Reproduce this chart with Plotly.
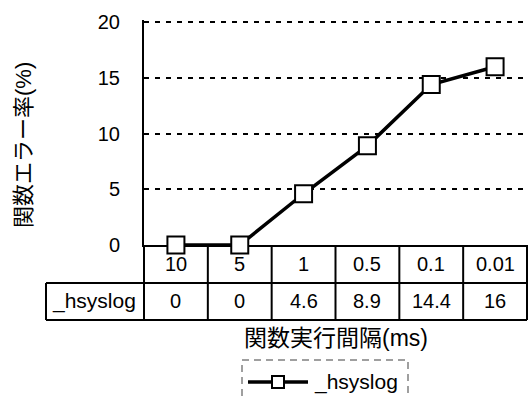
import plotly.graph_objects as go

# Chart data
categories = ["10", "5", "1", "0.5", "0.1", "0.01"]
hsyslog = [0, 0, 4.6, 8.9, 14.4, 16]
series_name = "_hsyslog"
y_ticks = [0, 5, 10, 15, 20]
x_title = "関数実行間隔(ms)"
y_title = "関数エラー率(%)"

# Figure geometry (pixels)
W, H = 528, 396
ML, MR, MT, MB = 144, 1, 20, 151
PW = W - ML - MR
PH = H - MT - MB

FONT = "Liberation Sans, Arial, Noto Sans CJK JP"
BLACK = "#000000"


def xp(px):
    """Pixel x -> paper x."""
    return (px - ML) / PW


def yp(py):
    """Pixel y -> paper y."""
    return (H - MB - py) / PH


fig = go.Figure()
fig.add_trace(go.Scatter(
    x=categories, y=hsyslog, name=series_name,
    mode="lines+markers",
    line=dict(color=BLACK, width=3.5),
    marker=dict(symbol="square", size=17, color="white",
                line=dict(color=BLACK, width=2)),
    cliponaxis=False, showlegend=False,
))

shapes = []
ncat = len(categories)
row1_top, row2_top, row2_bot = 245, 283, 320
label_left = 46

# data table grid
for yy in (row2_top, row2_bot):
    shapes.append(dict(type="line", xref="paper", yref="paper",
                       x0=xp(label_left), x1=1, y0=yp(yy), y1=yp(yy),
                       line=dict(color=BLACK, width=2)))
shapes.append(dict(type="line", xref="paper", yref="paper",
                   x0=xp(label_left), x1=xp(label_left),
                   y0=yp(row2_top), y1=yp(row2_bot),
                   line=dict(color=BLACK, width=2)))
for k in range(ncat + 1):
    shapes.append(dict(type="line", xref="paper", yref="paper",
                       x0=k / ncat, x1=k / ncat,
                       y0=yp(row1_top), y1=yp(row2_bot),
                       line=dict(color=BLACK, width=2)))

# legend box and glyph
leg_y = 382
shapes.append(dict(type="rect", xref="paper", yref="paper",
                   x0=xp(242), x1=xp(408), y0=yp(360), y1=yp(410),
                   line=dict(color="#808080", width=1.5, dash="7px,5px"),
                   fillcolor="rgba(0,0,0,0)"))
shapes.append(dict(type="line", xref="paper", yref="paper",
                   x0=xp(248), x1=xp(308), y0=yp(leg_y), y1=yp(leg_y),
                   line=dict(color=BLACK, width=3.5)))
shapes.append(dict(type="rect", xref="paper", yref="paper",
                   x0=xp(272), x1=xp(284), y0=yp(leg_y - 6), y1=yp(leg_y + 6),
                   line=dict(color=BLACK, width=2), fillcolor="white"))

annotations = []
tfont = dict(family=FONT, size=20, color=BLACK)
for i, c in enumerate(categories):
    annotations.append(dict(x=i, xref="x", y=yp(264), yref="paper",
                            text=c, showarrow=False, font=tfont,
                            xanchor="center", yanchor="middle"))
for i, v in enumerate(hsyslog):
    annotations.append(dict(x=i, xref="x", y=yp(301), yref="paper",
                            text=f"{v:g}", showarrow=False, font=tfont,
                            xanchor="center", yanchor="middle"))
annotations.append(dict(x=xp(94), xref="paper", y=yp(301), yref="paper",
                        text=series_name, showarrow=False,
                        font=dict(family=FONT, size=21, color=BLACK),
                        xanchor="center", yanchor="middle"))
annotations.append(dict(x=xp(312), xref="paper", y=yp(leg_y), yref="paper",
                        text=series_name, showarrow=False,
                        font=dict(family=FONT, size=21, color=BLACK),
                        xanchor="left", yanchor="middle"))
annotations.append(dict(x=xp(336), xref="paper", y=yp(338), yref="paper",
                        text=x_title, showarrow=False,
                        font=dict(family=FONT, size=23, color=BLACK),
                        xanchor="center", yanchor="middle"))
annotations.append(dict(x=xp(23), xref="paper", y=yp(145), yref="paper",
                        text=y_title, showarrow=False, textangle=-90,
                        font=dict(family=FONT, size=22, color=BLACK),
                        xanchor="center", yanchor="middle"))

fig.update_layout(
    width=W, height=H,
    margin=dict(l=ML, r=MR, t=MT, b=MB, pad=0),
    paper_bgcolor="white", plot_bgcolor="white",
    shapes=shapes, annotations=annotations,
    xaxis=dict(type="category", range=[-0.5, ncat - 0.5],
               showgrid=False, zeroline=False, showticklabels=False,
               showline=True, linecolor=BLACK, linewidth=2,
               ticks="", layer="below traces", fixedrange=True),
    yaxis=dict(range=[0, 20.2], tickvals=y_ticks,
               showgrid=True, gridcolor=BLACK, gridwidth=2,
               griddash="5px,6px", zeroline=False,
               showline=True, linecolor=BLACK, linewidth=2,
               ticks="", ticklabelstandoff=18,
               tickfont=dict(family=FONT, size=20, color=BLACK),
               layer="below traces", fixedrange=True),
)

fig.write_html("out.html")
